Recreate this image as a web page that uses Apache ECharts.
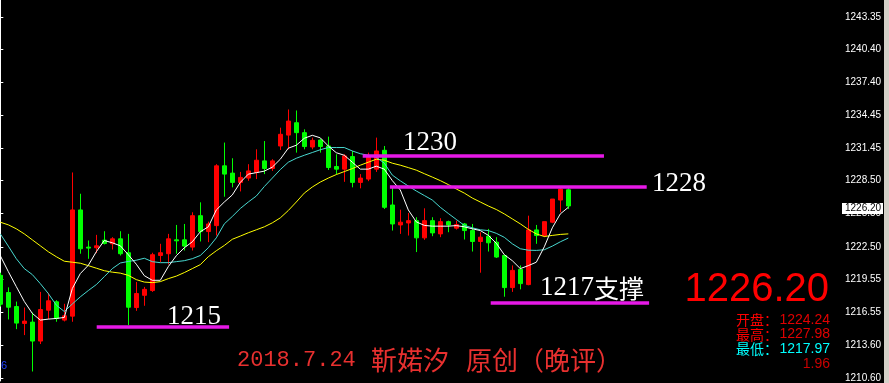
<!DOCTYPE html>
<html><head><meta charset="utf-8">
<script src="https://cdn.jsdelivr.net/npm/echarts@6/dist/echarts.min.js"></script>
<style>html,body{margin:0;padding:0;background:#000;}#c{width:889px;height:383px;}</style>
</head><body><div id="c"></div>
<script>
// ---- data ----
var opens  = [1219.91,1218.35,1217.08,1215.55,1215.67,1213.95,1216.75,1217.51,1215.85,1216.21,1225.84,1222.47,1222.41,1223.10,1222.77,1223.22,1221.96,1216.99,1218.10,1218.53,1221.71,1221.87,1223.13,1223.13,1222.47,1225.32,1223.88,1224.42,1229.84,1229.18,1228.34,1228.73,1229.24,1230.29,1229.60,1231.64,1232.63,1233.75,1232.85,1231.55,1232.18,1231.64,1229.78,1229.54,1230.68,1228.34,1228.64,1229.54,1231.25,1226.29,1224.48,1224.66,1224.87,1223.31,1224.87,1223.67,1224.78,1224.19,1224.57,1223.97,1222.98,1223.46,1222.92,1221.71,1218.80,1220.45,1219.07,1224.03,1223.52,1224.73,1226.74,1227.67];
var closes = [1217.29,1217.02,1215.58,1215.76,1213.95,1216.81,1217.60,1216.00,1216.24,1225.84,1222.32,1222.38,1222.59,1222.80,1223.22,1221.87,1217.02,1218.26,1218.64,1221.78,1221.96,1223.22,1223.04,1222.56,1225.32,1223.88,1224.57,1229.84,1229.09,1228.34,1228.79,1229.38,1230.35,1229.60,1230.29,1232.70,1233.90,1232.85,1231.59,1232.15,1231.59,1229.69,1229.54,1230.74,1228.34,1228.73,1230.74,1231.19,1226.08,1224.57,1224.73,1224.87,1223.31,1224.87,1223.76,1224.78,1224.48,1224.51,1223.97,1222.98,1223.37,1222.86,1221.57,1218.80,1220.36,1219.16,1224.03,1223.52,1224.78,1226.83,1227.73,1226.20];
var lows   = [1217.08,1215.91,1215.03,1214.49,1211.19,1213.68,1215.94,1215.70,1215.73,1215.70,1221.87,1221.41,1221.93,1222.71,1222.25,1221.71,1215.40,1216.69,1217.15,1218.41,1221.12,1220.90,1221.87,1222.16,1222.16,1222.98,1222.92,1223.52,1227.04,1227.89,1227.52,1228.48,1228.64,1229.09,1229.38,1231.28,1231.34,1231.04,1231.34,1231.34,1231.04,1229.47,1229.09,1228.39,1227.89,1227.80,1228.45,1229.29,1225.93,1223.97,1223.67,1223.52,1222.02,1223.13,1223.46,1223.37,1223.82,1224.06,1223.16,1222.07,1220.15,1222.07,1221.48,1217.97,1218.41,1218.64,1219.01,1222.77,1223.37,1224.64,1225.63,1225.93];
var highs  = [1220.15,1218.82,1217.53,1216.99,1216.54,1218.41,1218.32,1217.65,1217.33,1229.24,1227.31,1223.07,1223.58,1223.91,1223.37,1223.91,1223.67,1219.31,1218.86,1221.96,1222.77,1223.67,1224.48,1224.57,1225.63,1226.53,1224.78,1229.99,1231.95,1230.53,1229.29,1229.99,1231.34,1232.09,1230.44,1233.30,1234.95,1234.86,1233.15,1232.40,1232.31,1232.49,1230.89,1230.89,1231.19,1229.09,1231.04,1232.40,1231.64,1227.89,1225.86,1225.57,1225.18,1225.99,1225.18,1225.09,1224.87,1224.87,1224.66,1224.57,1223.82,1224.12,1223.37,1221.78,1220.81,1220.81,1225.32,1224.48,1224.78,1226.83,1227.80,1227.98];
var maWhite = [1221.69,1220.25,1218.89,1217.54,1216.46,1215.85,1215.94,1216.00,1216.09,1218.71,1220.07,1220.82,1222.05,1223.07,1222.86,1222.59,1221.78,1220.92,1219.88,1219.46,1219.46,1220.70,1221.69,1222.41,1222.95,1223.86,1224.31,1225.84,1226.56,1227.20,1228.34,1229.09,1229.22,1229.36,1229.72,1230.44,1231.44,1231.71,1232.34,1232.61,1232.38,1231.64,1231.03,1230.80,1230.17,1229.54,1229.54,1229.81,1229.54,1228.50,1227.65,1225.84,1224.76,1224.44,1224.37,1224.37,1224.37,1224.42,1224.31,1224.13,1223.97,1223.54,1222.82,1221.78,1221.24,1220.52,1220.79,1221.10,1222.50,1224.22,1225.48,1226.08];
var maCyan = [1223.67,1222.56,1221.42,1220.52,1219.98,1219.16,1218.26,1217.21,1216.63,1217.31,1217.96,1218.53,1219.07,1219.79,1220.52,1221.03,1221.17,1221.28,1221.46,1221.15,1221.06,1221.06,1221.15,1221.24,1221.42,1221.71,1222.41,1223.31,1224.58,1225.25,1225.97,1226.56,1227.10,1227.96,1228.73,1229.50,1230.17,1230.53,1230.80,1231.05,1231.30,1231.50,1231.50,1231.50,1231.19,1230.94,1230.80,1230.62,1230.08,1229.00,1228.48,1228.01,1227.56,1227.15,1226.74,1226.08,1225.52,1224.98,1224.44,1224.22,1224.04,1223.97,1223.72,1223.36,1222.77,1222.32,1222.19,1222.17,1222.23,1222.56,1222.95,1223.29];
var maYellow = [1224.73,1224.49,1224.13,1223.67,1223.13,1222.59,1222.05,1221.60,1221.19,1221.10,1221.01,1220.79,1220.56,1220.33,1220.20,1220.11,1219.91,1219.52,1219.30,1219.25,1219.34,1219.61,1219.84,1220.16,1220.52,1220.88,1221.60,1222.14,1222.62,1223.18,1223.47,1223.77,1224.04,1224.31,1224.67,1225.12,1225.79,1226.56,1227.37,1227.92,1228.37,1228.73,1229.05,1229.32,1229.59,1229.90,1230.17,1230.44,1230.35,1230.08,1229.90,1229.68,1229.45,1229.13,1228.82,1228.50,1228.14,1227.74,1227.37,1226.92,1226.56,1226.20,1225.88,1225.48,1225.03,1224.58,1224.08,1223.67,1223.43,1223.53,1223.62,1223.67];
var yTicks = [1210.60,1213.60,1216.55,1219.55,1222.50,1225.50,1228.50,1231.45,1234.45,1237.40,1240.40,1243.35];
// support / resistance levels
var levelPrices = [1215.22, 1230.80, 1227.92, 1217.40];
var levelFrom   = [12.05, 45.3, 48.7, 61.3];
var levelTo     = [28.6, 75.46, 80.8, 81.1];
var lastPrice = 1226.20;
var infoLabels = ['开盘：','最高：','最低：'];
var infoValues = ['1224.24','1227.98','1217.97','1.96'];

// ---- build ----
var candles = opens.map(function(o,i){return [i,o,closes[i],lows[i],highs[i]];});
function pts(a){return a.map(function(v,i){return [i,v];});}
var markData = levelPrices.map(function(p,k){return [{coord:[levelFrom[k],p]},{coord:[levelTo[k],p]}];});

var chart = echarts.init(document.getElementById('c'), null, {renderer:'canvas'});
var serif = '"Liberation Serif","DejaVu Serif",serif';
var cjk = '"Noto Sans CJK SC",sans-serif';
var sans = '"Liberation Sans",Arial,sans-serif';
function txt(x,y,s,size,color,fam,align){
  return {type:'text',x:x,y:y,silent:true,z:10,style:{text:s,fontSize:size,fontFamily:fam,fill:color,align:align||'left',verticalAlign:'middle'}};
}
var graphics = [
  {type:'rect',shape:{x:884,y:0,width:5,height:383},style:{fill:'#d4d0c8'},silent:true,z:10},
  {type:'rect',shape:{x:842,y:203,width:41,height:11},style:{fill:'#ffffff'},silent:true,z:10},
  txt(845,208.5,lastPrice.toFixed(2),10,'#000',sans),
  txt(403,143,'1230',27,'#ffffff',serif),
  txt(652,184,'1228',27,'#ffffff',serif),
  txt(540,288,'1217',27,'#ffffff',serif),
  txt(594,288,'支撑',25,'#ffffff',cjk),
  txt(167,317,'1215',27,'#ffffff',serif),
  txt(237,360,'2018.7.24',22,'#e8302f','"Liberation Mono",monospace'),
  txt(371,360,'靳婼汐',26,'#e8302f',cjk),
  txt(466,360,'原创（晚评）',26,'#e8302f',cjk),
  txt(829,290,lastPrice.toFixed(2),40,'#ff0000',sans,'right'),
  txt(736,320,infoLabels[0],14,'#ff0000',cjk),
  txt(736,334.5,infoLabels[1],14,'#ff0000',cjk),
  txt(736,349,infoLabels[2],14,'#00ffff',cjk),
  txt(830,320,infoValues[0],14,'#e00000',sans,'right'),
  txt(830,334.5,infoValues[1],14,'#e00000',sans,'right'),
  txt(830,349,infoValues[2],14,'#00ffff',sans,'right'),
  txt(830,364.5,infoValues[3],14,'#c80000',sans,'right'),
  txt(1,366,'6',11,'#2040ff',sans)
];

chart.setOption({
  backgroundColor:'#000000',
  animation:false,
  grid:{left:0,right:48,top:0,bottom:0,containLabel:false},
  xAxis:{type:'value',min:-0.0375,max:105.0875,show:false,splitLine:{show:false}},
  yAxis:{type:'value',position:'right',min:1210.33,max:1244.88,scale:true,
    axisLine:{show:true,lineStyle:{color:'#ffffff',width:1}},
    axisTick:{show:true,length:3,inside:false,customValues:yTicks,lineStyle:{color:'#ffffff'}},
    axisLabel:{show:true,margin:4,color:'#ffffff',fontSize:10,fontFamily:sans,customValues:yTicks,formatter:function(v){return v.toFixed(2);}},
    splitLine:{show:false}},
  series:[
    {type:'candlestick',data:candles,barWidth:4,
     itemStyle:{color:'#ff0000',color0:'#00ff00',borderColor:'#ff0000',borderColor0:'#00ff00',borderWidth:1},
     markLine:{silent:true,symbol:['none','none'],animation:false,label:{show:false},
       lineStyle:{color:'#e619e6',width:3.5,type:'solid'},data:markData}},
    {type:'line',data:pts(maYellow),showSymbol:false,symbol:'none',lineStyle:{color:'#ffff00',width:1},z:3},
    {type:'line',data:pts(maCyan),showSymbol:false,symbol:'none',lineStyle:{color:'#48d8d0',width:1},z:3},
    {type:'line',data:pts(maWhite),showSymbol:false,symbol:'none',lineStyle:{color:'#ffffff',width:1},z:3}
  ],
  graphic:graphics
});
</script></body></html>
